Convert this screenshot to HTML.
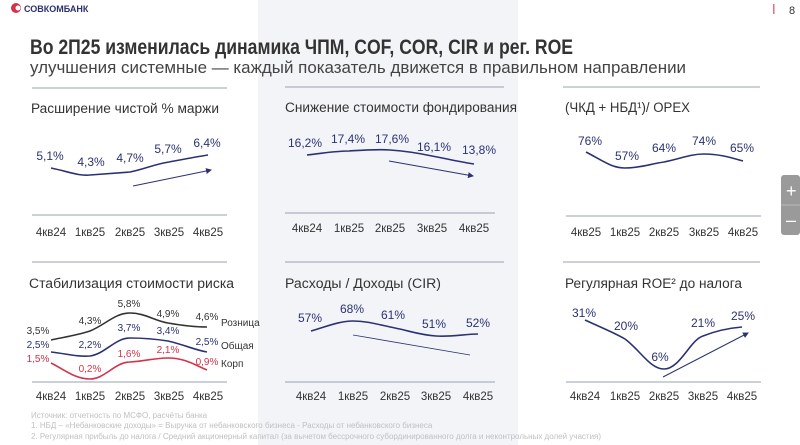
<!DOCTYPE html>
<html><head><meta charset="utf-8"><style>
body{margin:0;background:#fff}
svg{display:block;font-family:"Liberation Sans","Noto Sans CJK SC",sans-serif}
.t{font-size:13.5px;fill:#333}
.x{font-size:11.5px;fill:#333}
.v{font-size:12px;fill:#2b3272}
.s{font-size:10px;fill:#333}
.ln{fill:none;stroke:#2b3272;stroke-width:1.6;stroke-linejoin:round}
.ax{stroke:#9aa0b0;stroke-width:1}
.f{font-size:8px;fill:#c0c0c0}
</style></head><body>
<svg width="800" height="445" viewBox="0 0 800 445">
<defs><marker id="a" markerWidth="6" markerHeight="6" refX="5" refY="3" orient="auto"><path d="M0,0L6,3L0,6z" fill="#2b3272"/></marker></defs>
<rect x="258" y="0" width="260" height="445" fill="#f3f4f8"/>
<circle cx="16" cy="8" r="5" fill="#d2344a"/><circle cx="18" cy="8" r="2.5" fill="#fff"/>
<text x="24" y="12" font-size="9" font-weight="bold" fill="#2b3272">СОВКОМБАНК</text>
<rect x="773" y="4" width="1.5" height="10" fill="#e07080"/><text x="789" y="14" font-size="11" fill="#333">8</text>
<text x="30" y="54" font-size="21" font-weight="bold" fill="#333" textLength="543" lengthAdjust="spacingAndGlyphs">Во 2П25 изменилась динамика ЧПМ, COF, COR, CIR и рег. ROE</text>
<text x="30" y="73" font-size="17" fill="#444" textLength="656" lengthAdjust="spacingAndGlyphs">улучшения системные — каждый показатель движется в правильном направлении</text>
<rect x="781" y="175" width="19" height="60" rx="3" fill="#9a9a9a"/><line x1="781" y1="205" x2="800" y2="205" stroke="#bbb"/>
<text x="786" y="197" font-size="18" fill="#fff">+</text><text x="786" y="226" font-size="18" fill="#fff">–</text>

<!-- chart 1 -->
<line class="ax" x1="32" y1="88" x2="227" y2="88"/><line class="ax" x1="32" y1="215" x2="227" y2="215"/>
<text class="t" x="31" y="113" textLength="188" lengthAdjust="spacingAndGlyphs">Расширение чистой % маржи</text>
<path class="ln" d="M51,168 C70,172 78,176 90,175 C105,174 118,173 130,172 C145,169 155,164 169,162 C185,159 195,157 208,155"/>
<line x1="133" y1="186" x2="211" y2="170" stroke="#2b3272" marker-end="url(#a)"/>
<g class="v" text-anchor="middle"><text x="50" y="160">5,1%</text><text x="91" y="166">4,3%</text><text x="130" y="162">4,7%</text><text x="168" y="153">5,7%</text><text x="207" y="147">6,4%</text></g>
<g class="x" text-anchor="middle"><text x="51" y="236">4кв24</text><text x="90" y="236">1кв25</text><text x="130" y="236">2кв25</text><text x="169" y="236">3кв25</text><text x="208" y="236">4кв25</text></g>

<!-- chart 2 -->
<line class="ax" x1="285" y1="87" x2="504" y2="87"/><line class="ax" x1="285" y1="213" x2="495" y2="213"/>
<text class="t" x="285" y="112" textLength="232" lengthAdjust="spacingAndGlyphs">Снижение стоимости фондирования</text>
<path class="ln" d="M307,155 C325,153 335,151 349,151 C365,150 378,149 390,150 C405,151 418,153 432,156 C448,159 460,162 474,164"/>
<line x1="389" y1="161" x2="473" y2="176" stroke="#2b3272" marker-end="url(#a)"/>
<g class="v" text-anchor="middle"><text x="305" y="147">16,2%</text><text x="348" y="143">17,4%</text><text x="392" y="143">17,6%</text><text x="434" y="151">16,1%</text><text x="479" y="154">13,8%</text></g>
<g class="x" text-anchor="middle"><text x="307" y="232">4кв24</text><text x="349" y="232">1кв25</text><text x="390" y="232">2кв25</text><text x="432" y="232">3кв25</text><text x="474" y="232">4кв25</text></g>

<!-- chart 3 -->
<line class="ax" x1="563" y1="87" x2="760" y2="87"/><line class="ax" x1="566" y1="216" x2="761" y2="216"/>
<text class="t" x="565" y="112" textLength="125" lengthAdjust="spacingAndGlyphs">(ЧКД + НБД¹)/ OPEX</text>
<path class="ln" d="M586,152 C605,162 612,168 625,168 C640,168 650,164 664,162 C680,159 690,154 704,154 C720,154 732,158 743,161"/>
<g class="v" text-anchor="middle"><text x="590" y="145">76%</text><text x="627" y="160">57%</text><text x="664" y="152">64%</text><text x="704" y="145">74%</text><text x="742" y="152">65%</text></g>
<g class="x" text-anchor="middle"><text x="586" y="236">4кв25</text><text x="625" y="236">1кв25</text><text x="664" y="236">2кв25</text><text x="704" y="236">3кв25</text><text x="743" y="236">4кв25</text></g>

<!-- chart 4 -->
<line class="ax" x1="32" y1="262" x2="227" y2="262"/><line class="ax" x1="32" y1="382" x2="227" y2="382"/>
<text class="t" x="29" y="288" textLength="205" lengthAdjust="spacingAndGlyphs">Стабилизация стоимости риска</text>
<path class="ln" style="stroke:#333" d="M51,340 C65,337 78,335 90,331 C105,325 115,313 130,313 C145,313 155,321 168,323 C185,326 195,327 207,327"/>
<path class="ln" d="M51,352 C68,354 78,357 90,356 C105,354 115,338 130,338 C145,338 155,339 168,341 C185,345 195,350 207,352"/>
<path class="ln" style="stroke:#d2344a" d="M51,363 C65,370 75,379 90,379 C105,379 115,362 130,362 C145,361 155,358 168,358 C185,358 195,365 207,370"/>
<g class="s" text-anchor="middle" fill="#333"><text x="38" y="334">3,5%</text><text x="90" y="324">4,3%</text><text x="129" y="307">5,8%</text><text x="168" y="317">4,9%</text><text x="207" y="320">4,6%</text></g>
<g class="s" text-anchor="middle" style="fill:#2b3272"><text x="38" y="348">2,5%</text><text x="90" y="348">2,2%</text><text x="129" y="331">3,7%</text><text x="168" y="334">3,4%</text><text x="207" y="345">2,5%</text></g>
<g class="s" text-anchor="middle" style="fill:#d2344a"><text x="38" y="362">1,5%</text><text x="90" y="372">0,2%</text><text x="129" y="357">1,6%</text><text x="168" y="353">2,1%</text><text x="207" y="365">0,9%</text></g>
<text class="s" x="221" y="326">Розница</text><text class="s" x="221" y="349">Общая</text><text class="s" x="221" y="367">Корп</text>
<g class="x" text-anchor="middle"><text x="51" y="400">4кв24</text><text x="90" y="400">1кв25</text><text x="130" y="400">2кв25</text><text x="169" y="400">3кв25</text><text x="208" y="400">4кв25</text></g>

<!-- chart 5 -->
<line class="ax" x1="285" y1="262" x2="504" y2="262"/><line class="ax" x1="285" y1="382" x2="495" y2="382"/>
<text class="t" x="285" y="288" textLength="156" lengthAdjust="spacingAndGlyphs">Расходы / Доходы (CIR)</text>
<path class="ln" d="M311,331 C328,326 340,321 353,321 C368,321 380,325 395,328 C410,331 420,335 436,336 C452,337 465,334 478,334"/>
<line x1="353" y1="335" x2="470" y2="355" stroke="#2b3272" stroke-width="0.8"/>
<g class="v" text-anchor="middle"><text x="310" y="322">57%</text><text x="352" y="313">68%</text><text x="393" y="319">61%</text><text x="434" y="328">51%</text><text x="478" y="327">52%</text></g>
<g class="x" text-anchor="middle"><text x="311" y="400">4кв24</text><text x="353" y="400">1кв25</text><text x="395" y="400">2кв25</text><text x="436" y="400">3кв25</text><text x="478" y="400">4кв25</text></g>

<!-- chart 6 -->
<line class="ax" x1="563" y1="262" x2="760" y2="262"/><line class="ax" x1="566" y1="382" x2="761" y2="382"/>
<text class="t" x="565" y="288" textLength="177" lengthAdjust="spacingAndGlyphs">Регулярная ROE² до налога</text>
<path class="ln" d="M585,320 C600,327 615,333 625,339 C640,350 650,369 664,369 C680,369 690,340 703,336 C718,330 730,328 742,327"/>
<line x1="663" y1="377" x2="748" y2="333" stroke="#2b3272" marker-end="url(#a)"/>
<g class="v" text-anchor="middle"><text x="584" y="317">31%</text><text x="626" y="330">20%</text><text x="660" y="361">6%</text><text x="703" y="327">21%</text><text x="743" y="320">25%</text></g>
<g class="x" text-anchor="middle"><text x="585" y="400">4кв24</text><text x="625" y="400">1кв25</text><text x="664" y="400">2кв25</text><text x="703" y="400">3кв25</text><text x="742" y="400">4кв25</text></g>

<text class="f" x="31" y="418">Источник: отчетность по МСФО, расчёты банка</text>
<text class="f" x="31" y="428">1.    НБД – «Небанковские доходы» = Выручка от небанковского бизнеса - Расходы от небанковского бизнеса</text>
<text class="f" x="31" y="439">2.    Регулярная прибыль до налога / Средний акционерный капитал (за вычетом бессрочного субординированного долга и неконтрольных долей участия)</text>
</svg>
</body></html>
